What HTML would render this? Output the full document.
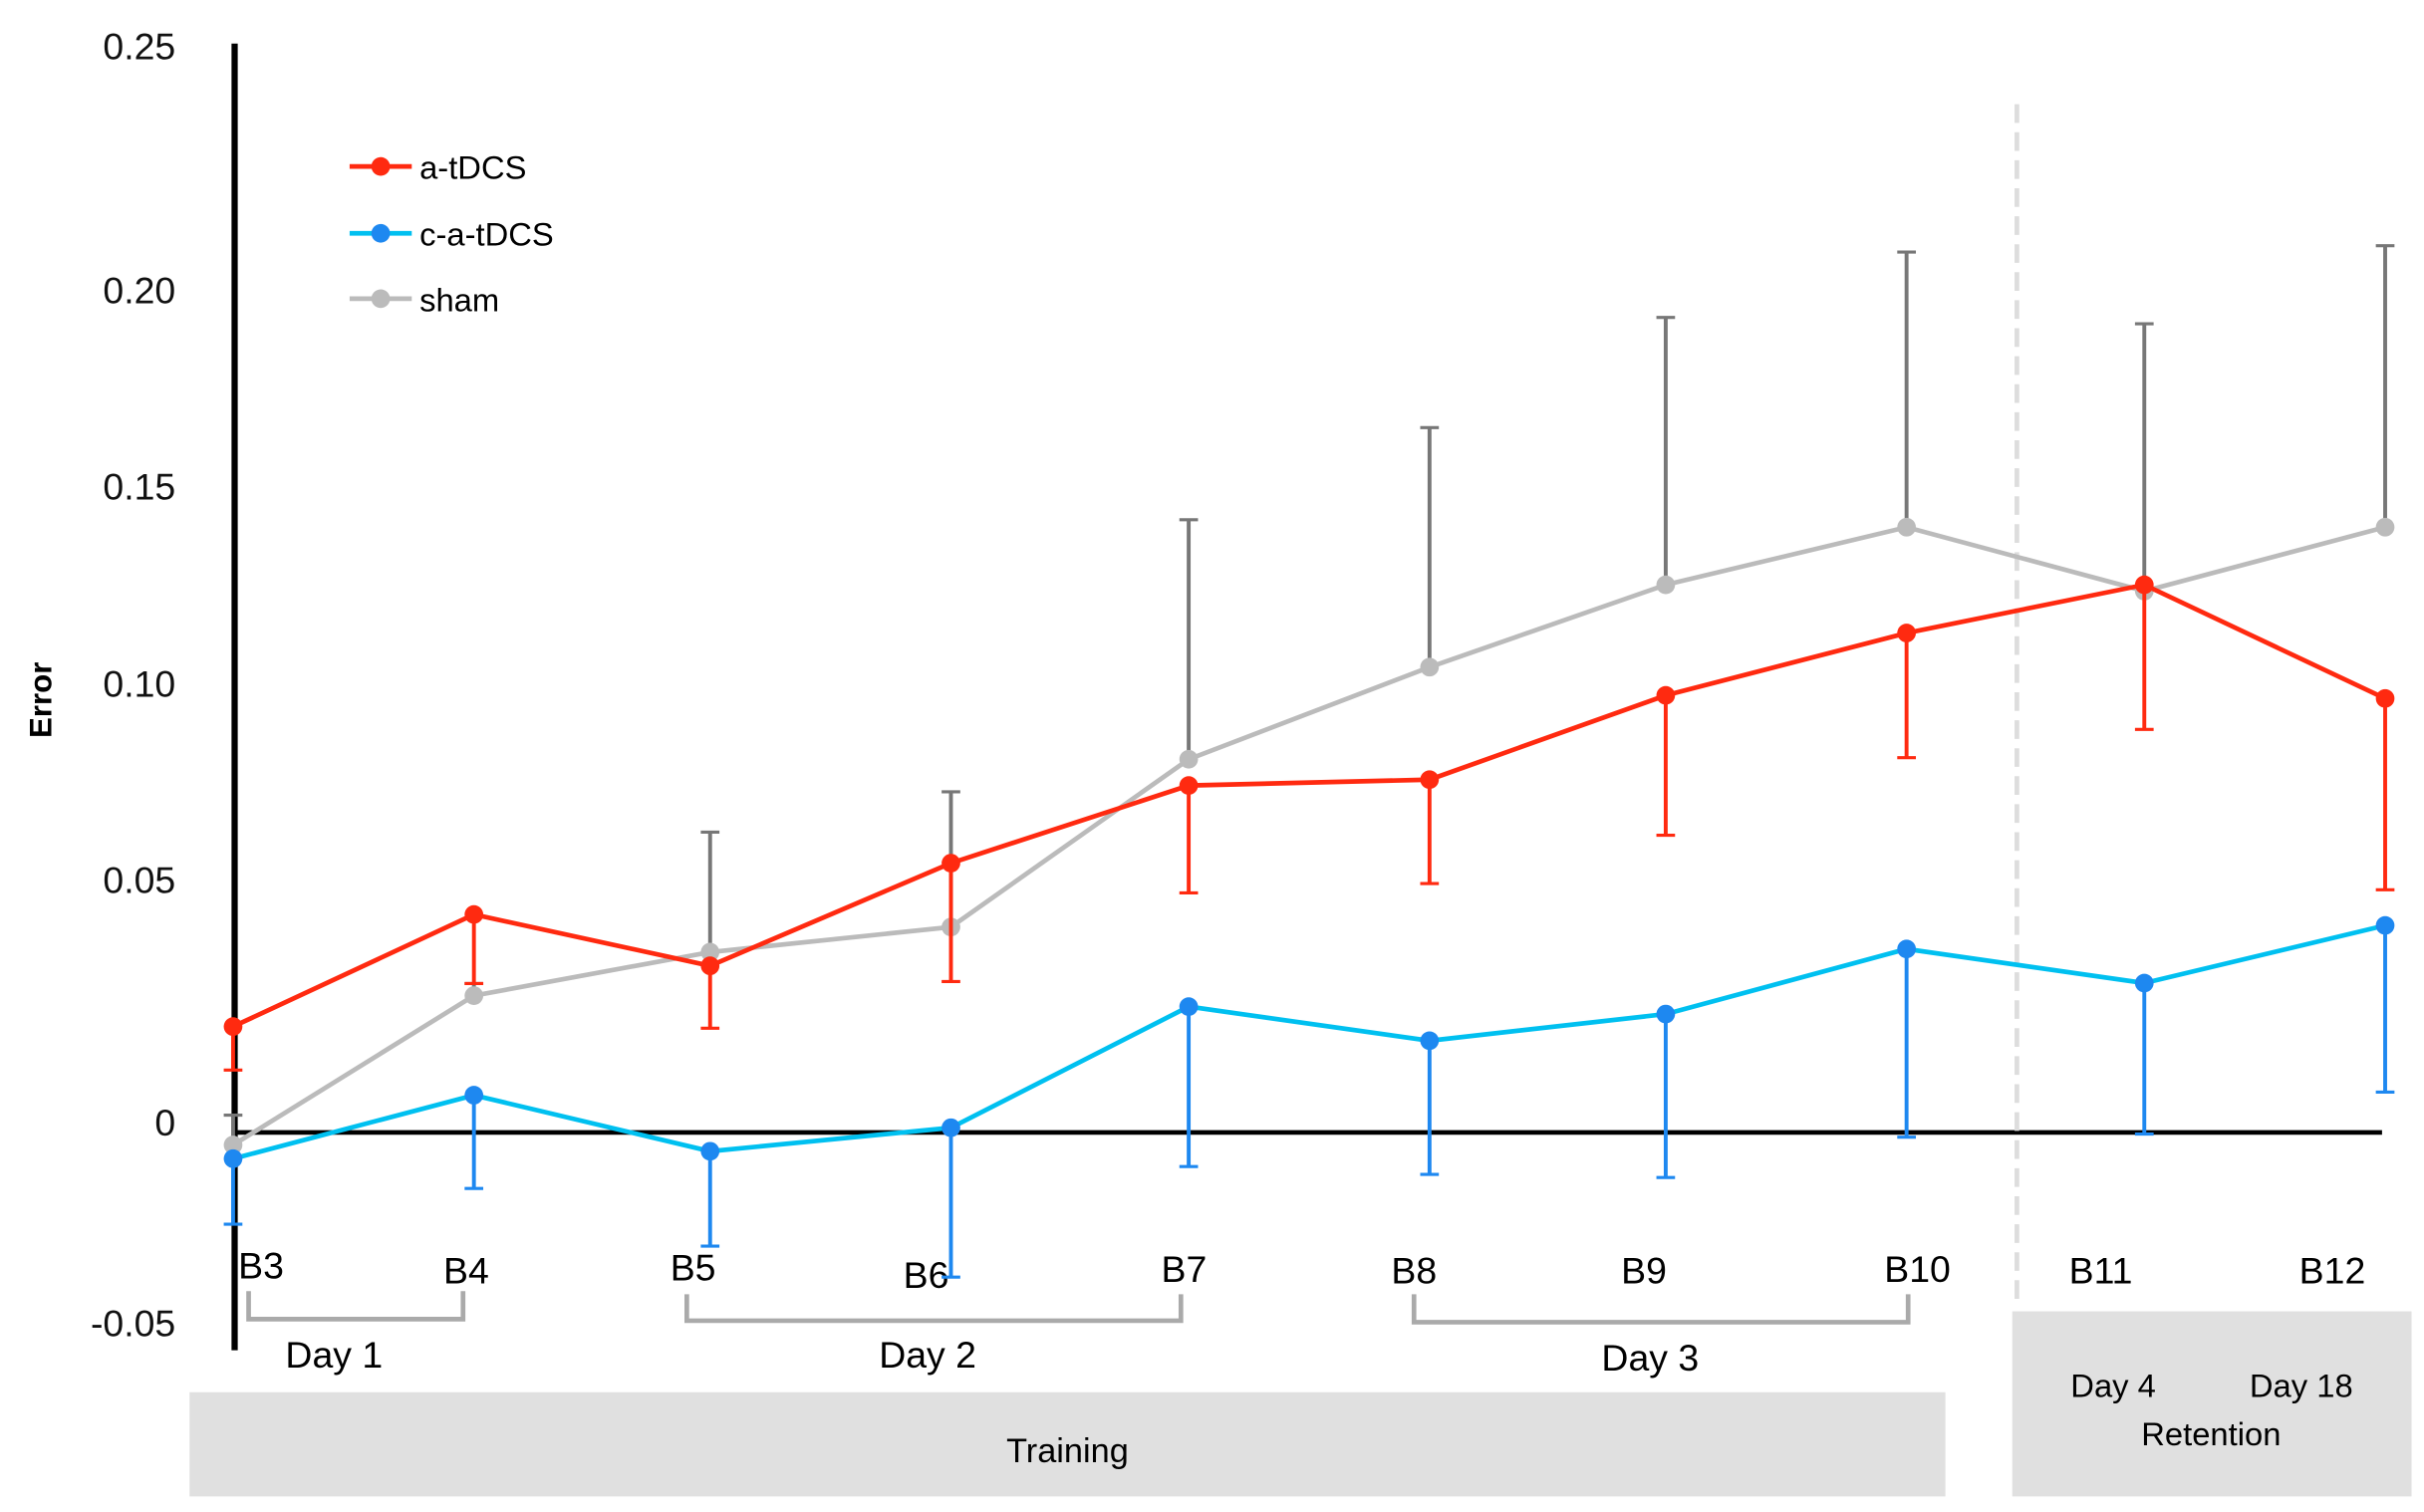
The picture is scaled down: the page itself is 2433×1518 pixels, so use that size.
<!DOCTYPE html>
<html><head><meta charset="utf-8"><style>
html,body{margin:0;padding:0;background:#fff;}
svg{display:block;font-family:"Liberation Sans",sans-serif;}
</style></head><body>
<svg id="chart" width="2433" height="1518" viewBox="0 0 1560 972" preserveAspectRatio="none">
<g font-size="24" text-anchor="end" fill="#111">
<text x="113" y="38">0.25</text><text x="113" y="195">0.20</text><text x="113" y="321">0.15</text>
<text x="113" y="448">0.10</text><text x="113" y="574">0.05</text><text x="113" y="730">0</text><text x="113" y="859">-0.05</text>
</g>
<text transform="translate(33,450) rotate(-90)" text-anchor="middle" font-size="20" font-weight="bold">Error</text>
<line x1="151" y1="28" x2="151" y2="868" stroke="#000" stroke-width="4"/>
<line x1="150" y1="728" x2="1533" y2="728" stroke="#000" stroke-width="3"/>
<line x1="1298" y1="67" x2="1298" y2="840" stroke="#ddd" stroke-width="3" stroke-dasharray="12,6"/>
<rect x="122" y="895" width="1130" height="67" fill="#e0e0e0"/>
<text x="687" y="940" font-size="22" text-anchor="middle">Training</text>
<rect x="1295" y="843" width="257" height="119" fill="#e0e0e0"/>
<g font-size="21" text-anchor="middle">
<text x="1360" y="898">Day 4</text><text x="1481" y="898">Day 18</text><text x="1423" y="929">Retention</text>
</g>
<g fill="none" stroke="#aaa" stroke-width="3">
<path d="M160 830 V848 H298 V830"/><path d="M442 832 V849 H760 V832"/><path d="M910 832 V850 H1228 V832"/>
</g>
<g font-size="24" text-anchor="middle">
<text x="215" y="879">Day 1</text><text x="597" y="879">Day 2</text><text x="1062" y="881">Day 3</text>
</g>
<g id="xlabels" font-size="24" text-anchor="middle"></g>
<g id="series"></g>
<g font-size="21">
<g><line x1="225" y1="107" x2="265" y2="107" stroke="#ff2a10" stroke-width="3"/><circle cx="245" cy="107" r="6" fill="#ff2a10"/><text x="270" y="115">a-tDCS</text></g>
<g><line x1="225" y1="150" x2="265" y2="150" stroke="#00c0f0" stroke-width="3"/><circle cx="245" cy="150" r="6" fill="#1e88f0"/><text x="270" y="158">c-a-tDCS</text></g>
<g><line x1="225" y1="192" x2="265" y2="192" stroke="#bbb" stroke-width="3"/><circle cx="245" cy="192" r="6" fill="#bbb"/><text x="270" y="200">sham</text></g>
</g>
</svg>
<script>
const categories = ["B3","B4","B5","B6","B7","B8","B9","B10","B11","B12"];
const aTdcs = [0.027,0.0556,0.0425,0.0687,0.0885,0.090,0.1115,0.1274,0.1397,0.1107];
const aTdcsLow = [0.0159,0.038,0.0266,0.0385,0.0611,0.0635,0.0758,0.0956,0.1028,0.0619];
const caTdcs = [-0.0067,0.0095,-0.0048,0.0012,0.0321,0.0234,0.0302,0.0468,0.0381,0.0528];
const caTdcsLow = [-0.0234,-0.0143,-0.029,-0.0369,-0.0087,-0.0107,-0.0115,-0.0012,-0.0004,0.0103];
const sham = [-0.0032,0.0349,0.046,0.0524,0.0952,0.1187,0.1397,0.1544,0.1381,0.1544];
const shamHigh = [0.0044,0.038,0.0766,0.0869,0.1563,0.1798,0.2079,0.2246,0.2063,0.2262];

const NS="http://www.w3.org/2000/svg";
const xPos=[150,305,457,612,765,920,1072,1227,1380,1535];
const labelX=[168,300,446,596,762,910,1058,1234,1352,1501];
const labelY=[822,825,823,828,824,825,825,824,825,825];
function xs(i){return xPos[i];}
function ys(v){return 728 - v*2520;}
function mk(tag,attrs,parent){const e=document.createElementNS(NS,tag);for(const k in attrs)e.setAttribute(k,attrs[k]);parent.appendChild(e);return e;}
const xl=document.getElementById('xlabels');
categories.forEach((c,i)=>{
  const t=mk('text',{x:labelX[i],y:labelY[i]},xl);t.textContent=c;
  
  
});
const g=document.getElementById('series');
function drawSeries(name,vals,errEnd,lineCol,dotCol,errCol){
  const sg=mk('g',{},g);
  
  
  vals.forEach((v,i)=>{
    const e=mk('line',{x1:xs(i),y1:ys(v),x2:xs(i),y2:ys(errEnd[i]),stroke:errCol,'stroke-width':2.5},sg);
    
    
    const c=mk('line',{x1:xs(i)-6,y1:ys(errEnd[i]),x2:xs(i)+6,y2:ys(errEnd[i]),stroke:errCol,'stroke-width':2},sg);
    
    
  });
  const p=mk('polyline',{points:vals.map((v,i)=>xs(i)+','+ys(v)).join(' '),fill:'none',stroke:lineCol,'stroke-width':3},sg);
  
  
  vals.forEach((v,i)=>{
    const d=mk('circle',{cx:xs(i),cy:ys(v),r:6,fill:dotCol},sg);
    
    
  });
}
drawSeries('sham',sham,shamHigh,'#bbbbbb','#bbbbbb','#777777');
drawSeries('a-tdcs',aTdcs,aTdcsLow,'#ff2a10','#ff2a10','#ff2a10');
drawSeries('c-a-tdcs',caTdcs,caTdcsLow,'#00c0f0','#1e88f0','#1e88f0');
</script>
</body></html>
